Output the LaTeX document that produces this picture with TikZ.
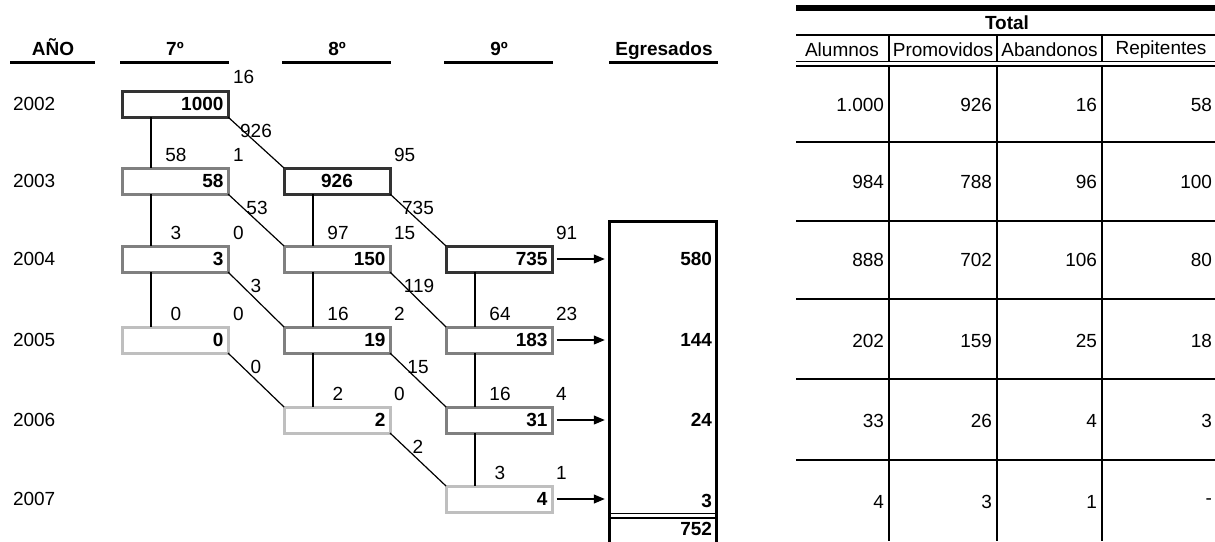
\documentclass[tikz,border=0pt]{standalone}
\usepackage{fontspec}
\setmainfont{Liberation Sans}
\usetikzlibrary{arrows.meta}
\begin{document}
\begin{tikzpicture}[x=1pt,y=-1pt,
  every node/.style={font=\fontsize{19}{22}\selectfont, inner sep=0pt, outer sep=0pt},
  box/.style={draw, line width=3pt, minimum width=106pt, minimum height=26pt, text width=97pt, inner xsep=4.5pt, align=right, font=\fontsize{19}{22}\selectfont\bfseries},
  dk/.style={draw=black!80}, md/.style={draw=black!50}, lt/.style={draw=black!25},
  conn/.style={line width=1.2pt},
  arr/.style={conn, -{Triangle[length=11pt,width=9pt]}, shorten <=4.5pt, shorten >=5pt},
  hdr/.style={font=\fontsize{19}{22}\selectfont\bfseries, anchor=base},
  bold/.style={font=\fontsize{19}{22}\selectfont\bfseries},
  hrule/.style={line width=3.5pt},
  grid/.style={line width=1.4pt}
]
\clip (0,0) rectangle (1215,541);
\fill[white] (0,0) rectangle (1215,541);

% headers
\node[hdr] (hA) at (53,55) {AÑO};
\node[hdr] (h7) at (175,55) {7º};
\node[hdr] (h8) at (337,55) {8º};
\node[hdr] (h9) at (499,55) {9º};
\node[hdr] (hE) at (664,55) {Egresados};
\draw[hrule] (10,62.5) -- (95,62.5);
\draw[hrule] (120,62.5) -- (229,62.5);
\draw[hrule] (282,62.5) -- (391,62.5);
\draw[hrule] (444,62.5) -- (553,62.5);
\draw[hrule] (609,62.5) -- (718,62.5);

% years
\node[anchor=west] (y2) at (13,104) {2002};
\node[anchor=west] (y3) at (13,181) {2003};
\node[anchor=west] (y4) at (13,259) {2004};
\node[anchor=west] (y5) at (13,340) {2005};
\node[anchor=west] (y6) at (13,420) {2006};
\node[anchor=west] (y7) at (13,499) {2007};

% boxes
\node[box,dk] (a1) at (175,104) {1000};
\node[box,md] (a2) at (175,181) {58};
\node[box,md] (a3) at (175,259) {3};
\node[box,lt] (a4) at (175,340) {0};
\node[box,dk,align=center] (b2) at (337,181) {926};
\node[box,md] (b3) at (337,259) {150};
\node[box,md] (b4) at (337,340) {19};
\node[box,lt] (b5) at (337,420) {2};
\node[box,dk] (c3) at (499,259) {735};
\node[box,md] (c4) at (499,340) {183};
\node[box,md] (c5) at (499,420) {31};
\node[box,lt] (c6) at (499,499) {4};

% vertical connectors
\foreach \u/\v in {a1/a2,a2/a3,a3/a4,b2/b3,b3/b4,b4/b5,c3/c4,c4/c5,c5/c6}
  \draw[conn] ([xshift=29pt]\u.south west) -- ([xshift=29pt]\v.north west);
% diagonal connectors
\foreach \u/\v in {a1/b2,a2/b3,b2/c3,a3/b4,b3/c4,a4/b5,b4/c5,b5/c6}
  \draw[conn] (\u.south east) -- (\v.north west);

% right labels (above boxes)
\node[anchor=west] (r1) at (233,77) {16};
\node[anchor=west] (r2) at (233,155) {1};
\node[anchor=west] (r3) at (394,155) {95};
\node[anchor=west] (r4) at (233,233) {0};
\node[anchor=west] (r5) at (394,233) {15};
\node[anchor=west] (r6) at (556,233) {91};
\node[anchor=west] (r7) at (233,314) {0};
\node[anchor=west] (r8) at (394,314) {2};
\node[anchor=west] (r9) at (556,314) {23};
\node[anchor=west] (r10) at (394,394) {0};
\node[anchor=west] (r11) at (556,394) {4};
\node[anchor=west] (r12) at (556,473) {1};
% left labels
\node (q1) at (176,155) {58};
\node (q2) at (176,233) {3};
\node (q3) at (176,314) {0};
\node (q4) at (338,233) {97};
\node (q5) at (338,314) {16};
\node (q6) at (338,394) {2};
\node (q7) at (500,314) {64};
\node (q8) at (500,394) {16};
\node (q9) at (500,473) {3};
% diagonal labels
\node (d1) at (256,131) {926};
\node (d2) at (257,208) {53};
\node (d3) at (256,286) {3};
\node (d4) at (256,367) {0};
\node (d5) at (418,208) {735};
\node (d6) at (419,286) {119};
\node (d7) at (418,367) {15};
\node (d8) at (418,447) {2};

% Egresados box
\node[draw, line width=3pt, minimum width=106.5pt, minimum height=340pt] (egr) at (663,391) {};
\foreach \b in {c3,c4,c5,c6}
  \draw[arr] (\b.east) -- (\b.east -| egr.west);
\node[bold,anchor=east] (e1) at (712,259) {580};
\node[bold,anchor=east] (e2) at (712,340) {144};
\node[bold,anchor=east] (e3) at (712,420) {24};
\node[bold,anchor=east] (e4) at (712,501) {3};
\node[bold,anchor=east] (e5) at (712,529) {752};
\draw[line width=1.3pt] (609,513.5) -- (718,513.5);
\draw[line width=1.3pt] (609,518) -- (718,518);

% table
\draw[line width=6pt] (796,8) -- (1215,8);
\node[bold] (tt) at (1007,23) {Total};
\draw[line width=2pt] (796,35) -- (1215,35);
\node (th1) at (842,50) {Alumnos};
\node (th2) at (943,50) {Promovidos};
\node (th3) at (1049.5,50) {Abandonos};
\node (th4) at (1161,50) {Repitentes};
\draw[grid] (796,61.5) -- (1215,61.5);
\draw[grid] (796,66) -- (1215,66);
\foreach \x in {889,997,1102}{
  \draw[grid] (\x,35) -- (\x,61.5);
  \draw[grid] (\x,66) -- (\x,541);
}
\foreach \y in {142,221,299,379,460}
  \draw[grid] (796,\y) -- (1215,\y);
\foreach \y/\a/\b/\c/\d [count=\i] in {105/1.000/926/16/58, 182/984/788/96/100, 260/888/702/106/80, 341/202/159/25/18, 421/33/26/4/3, 502/4/3/1/-}{
  \node[anchor=east] (t\i a) at (884,\y) {\a};
  \node[anchor=east] (t\i b) at (992,\y) {\b};
  \node[anchor=east] (t\i c) at (1097,\y) {\c};
  \node[anchor=east] (t\i d) at (1212,\y) {\d};
}
\end{tikzpicture}
\end{document}
